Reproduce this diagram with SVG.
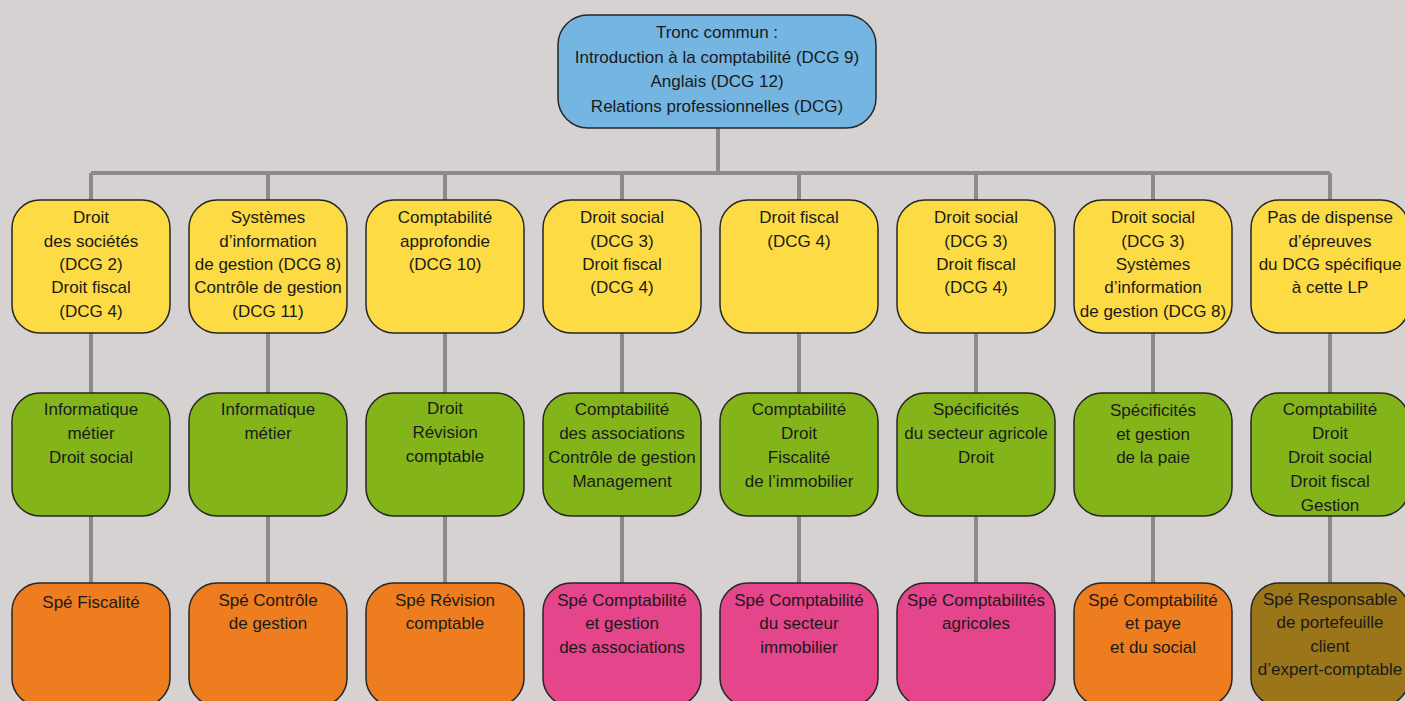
<svg xmlns="http://www.w3.org/2000/svg" width="1405" height="701" viewBox="0 0 1405 701">
<style>
.bg{fill:#d6d2d1}
.box{stroke:#262626;stroke-width:1.5}
.blue{fill:#75b5e1}
.yel{fill:#fddb45}
.grn{fill:#83b51b}
.org{fill:#ee7d1f}
.pnk{fill:#e5458b}
.olv{fill:#9b7519}
.lbl{font-family:"Liberation Sans",Arial,sans-serif;font-size:17px;fill:#1a1a1a;text-anchor:middle}
.con{stroke:#8b8b8b;stroke-width:4;fill:none}
</style>
<rect class="bg" x="0" y="0" width="1405" height="701"/>
<g id="connectors">
<path class="con" d="M718 128V173M91 173H1330M91 173V583M268 173V583M445 173V583M622 173V583M799 173V583M976 173V583M1153 173V583M1330 173V583"/>
</g>
<g id="tronc">
<rect class="box blue" x="558" y="15" width="318" height="113" rx="30"/>
<text class="lbl"><tspan x="717" y="38">Tronc commun :</tspan><tspan x="717" y="62.5">Introduction à la comptabilité (DCG 9)</tspan><tspan x="717" y="87">Anglais (DCG 12)</tspan><tspan x="717" y="111.5">Relations professionnelles (DCG)</tspan></text>
</g>
<g id="r1c1">
<rect class="box yel" x="12" y="200" width="158" height="133" rx="28"/>
<text class="lbl"><tspan x="91" y="223">Droit</tspan><tspan x="91" y="247">des sociétés</tspan><tspan x="91" y="270">(DCG 2)</tspan><tspan x="91" y="293">Droit fiscal</tspan><tspan x="91" y="317">(DCG 4)</tspan></text>
</g>
<g id="r1c2">
<rect class="box yel" x="189" y="200" width="158" height="133" rx="28"/>
<text class="lbl"><tspan x="268" y="223">Systèmes</tspan><tspan x="268" y="247">d’information</tspan><tspan x="268" y="270">de gestion (DCG 8)</tspan><tspan x="268" y="293">Contrôle de gestion</tspan><tspan x="268" y="317">(DCG 11)</tspan></text>
</g>
<g id="r1c3">
<rect class="box yel" x="366" y="200" width="158" height="133" rx="28"/>
<text class="lbl"><tspan x="445" y="223">Comptabilité</tspan><tspan x="445" y="247">approfondie</tspan><tspan x="445" y="270">(DCG 10)</tspan></text>
</g>
<g id="r1c4">
<rect class="box yel" x="543" y="200" width="158" height="133" rx="28"/>
<text class="lbl"><tspan x="622" y="223">Droit social</tspan><tspan x="622" y="247">(DCG 3)</tspan><tspan x="622" y="270">Droit fiscal</tspan><tspan x="622" y="293">(DCG 4)</tspan></text>
</g>
<g id="r1c5">
<rect class="box yel" x="720" y="200" width="158" height="133" rx="28"/>
<text class="lbl"><tspan x="799" y="223">Droit fiscal</tspan><tspan x="799" y="247">(DCG 4)</tspan></text>
</g>
<g id="r1c6">
<rect class="box yel" x="897" y="200" width="158" height="133" rx="28"/>
<text class="lbl"><tspan x="976" y="223">Droit social</tspan><tspan x="976" y="247">(DCG 3)</tspan><tspan x="976" y="270">Droit fiscal</tspan><tspan x="976" y="293">(DCG 4)</tspan></text>
</g>
<g id="r1c7">
<rect class="box yel" x="1074" y="200" width="158" height="133" rx="28"/>
<text class="lbl"><tspan x="1153" y="223">Droit social</tspan><tspan x="1153" y="247">(DCG 3)</tspan><tspan x="1153" y="270">Systèmes</tspan><tspan x="1153" y="293">d’information</tspan><tspan x="1153" y="317">de gestion (DCG 8)</tspan></text>
</g>
<g id="r1c8">
<rect class="box yel" x="1251" y="200" width="158" height="133" rx="28"/>
<text class="lbl"><tspan x="1330" y="223">Pas de dispense</tspan><tspan x="1330" y="247">d’épreuves</tspan><tspan x="1330" y="270">du DCG spécifique</tspan><tspan x="1330" y="293">à cette LP</tspan></text>
</g>
<g id="r2c1">
<rect class="box grn" x="12" y="393" width="158" height="123" rx="28"/>
<text class="lbl"><tspan x="91" y="415">Informatique</tspan><tspan x="91" y="439">métier</tspan><tspan x="91" y="463">Droit social</tspan></text>
</g>
<g id="r2c2">
<rect class="box grn" x="189" y="393" width="158" height="123" rx="28"/>
<text class="lbl"><tspan x="268" y="415">Informatique</tspan><tspan x="268" y="439">métier</tspan></text>
</g>
<g id="r2c3">
<rect class="box grn" x="366" y="393" width="158" height="123" rx="28"/>
<text class="lbl"><tspan x="445" y="414">Droit</tspan><tspan x="445" y="438">Révision</tspan><tspan x="445" y="462">comptable</tspan></text>
</g>
<g id="r2c4">
<rect class="box grn" x="543" y="393" width="158" height="123" rx="28"/>
<text class="lbl"><tspan x="622" y="415">Comptabilité</tspan><tspan x="622" y="439">des associations</tspan><tspan x="622" y="463">Contrôle de gestion</tspan><tspan x="622" y="487">Management</tspan></text>
</g>
<g id="r2c5">
<rect class="box grn" x="720" y="393" width="158" height="123" rx="28"/>
<text class="lbl"><tspan x="799" y="415">Comptabilité</tspan><tspan x="799" y="439">Droit</tspan><tspan x="799" y="463">Fiscalité</tspan><tspan x="799" y="487">de l’immobilier</tspan></text>
</g>
<g id="r2c6">
<rect class="box grn" x="897" y="393" width="158" height="123" rx="28"/>
<text class="lbl"><tspan x="976" y="415">Spécificités</tspan><tspan x="976" y="439">du secteur agricole</tspan><tspan x="976" y="463">Droit</tspan></text>
</g>
<g id="r2c7">
<rect class="box grn" x="1074" y="393" width="158" height="123" rx="28"/>
<text class="lbl"><tspan x="1153" y="416">Spécificités</tspan><tspan x="1153" y="440">et gestion</tspan><tspan x="1153" y="463">de la paie</tspan></text>
</g>
<g id="r2c8">
<rect class="box grn" x="1251" y="393" width="158" height="123" rx="28"/>
<text class="lbl"><tspan x="1330" y="415">Comptabilité</tspan><tspan x="1330" y="439">Droit</tspan><tspan x="1330" y="463">Droit social</tspan><tspan x="1330" y="487">Droit fiscal</tspan><tspan x="1330" y="511">Gestion</tspan></text>
</g>
<g id="r3c1">
<rect class="box org" x="12" y="583" width="158" height="123" rx="28"/>
<text class="lbl"><tspan x="91" y="608">Spé Fiscalité</tspan></text>
</g>
<g id="r3c2">
<rect class="box org" x="189" y="583" width="158" height="123" rx="28"/>
<text class="lbl"><tspan x="268" y="606">Spé Contrôle</tspan><tspan x="268" y="629">de gestion</tspan></text>
</g>
<g id="r3c3">
<rect class="box org" x="366" y="583" width="158" height="123" rx="28"/>
<text class="lbl"><tspan x="445" y="606">Spé Révision</tspan><tspan x="445" y="629">comptable</tspan></text>
</g>
<g id="r3c4">
<rect class="box pnk" x="543" y="583" width="158" height="123" rx="28"/>
<text class="lbl"><tspan x="622" y="606">Spé Comptabilité</tspan><tspan x="622" y="629">et gestion</tspan><tspan x="622" y="653">des associations</tspan></text>
</g>
<g id="r3c5">
<rect class="box pnk" x="720" y="583" width="158" height="123" rx="28"/>
<text class="lbl"><tspan x="799" y="606">Spé Comptabilité</tspan><tspan x="799" y="629">du secteur</tspan><tspan x="799" y="653">immobilier</tspan></text>
</g>
<g id="r3c6">
<rect class="box pnk" x="897" y="583" width="158" height="123" rx="28"/>
<text class="lbl"><tspan x="976" y="606">Spé Comptabilités</tspan><tspan x="976" y="629">agricoles</tspan></text>
</g>
<g id="r3c7">
<rect class="box org" x="1074" y="583" width="158" height="123" rx="28"/>
<text class="lbl"><tspan x="1153" y="606">Spé Comptabilité</tspan><tspan x="1153" y="629">et paye</tspan><tspan x="1153" y="653">et du social</tspan></text>
</g>
<g id="r3c8">
<rect class="box olv" x="1251" y="583" width="158" height="123" rx="28"/>
<text class="lbl"><tspan x="1330" y="605">Spé Responsable</tspan><tspan x="1330" y="628">de portefeuille</tspan><tspan x="1330" y="652">client</tspan><tspan x="1330" y="675">d’expert-comptable</tspan></text>
</g>
</svg>
